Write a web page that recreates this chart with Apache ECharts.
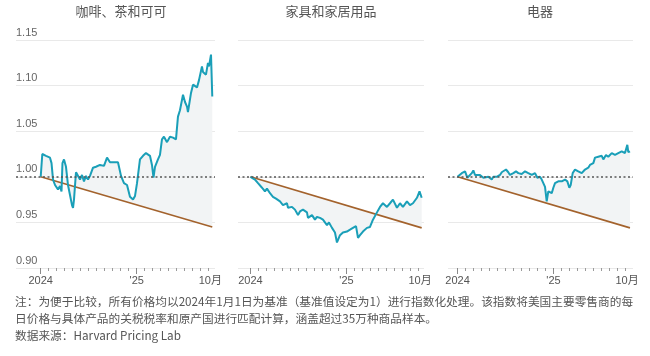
<!DOCTYPE html>
<html><head><meta charset="utf-8">
<script src="https://cdn.jsdelivr.net/npm/echarts@6/dist/echarts.min.js"></script>
<style>html,body{margin:0;padding:0;background:#fff}#c{width:650px;height:356px}</style>
</head><body><div id="c"></div>
<script>
// ---- data (x = months since 2024-01-01, y = price index) ----
const TITLES = ['咖啡、茶和可可', '家具和家居用品', '电器'];
const COFFEE = [[0,1.000],[0.2,1.025],[0.66,1.023],[1.16,1.021],[1.35,1.015],[1.54,0.997],[1.79,0.991],[2.16,0.986],[2.41,0.990],[2.6,0.984],[2.72,1.015],[2.91,1.019],[3.16,1.011],[3.41,0.991],[3.66,0.980],[3.91,0.969],[4.04,0.966],[4.16,0.975],[4.41,1.005],[4.66,1.005],[4.91,0.997],[5.16,1.002],[5.41,0.995],[5.66,1.001],[5.91,0.997],[6.16,1.001],[6.54,1.010],[6.91,1.011],[7.41,1.013],[7.91,1.012],[8.29,1.021],[8.66,1.016],[9.16,1.016],[9.66,1.016],[10.04,1.001],[10.41,0.993],[10.79,0.991],[11.16,0.978],[11.54,0.975],[11.79,0.979],[12.04,0.993],[12.41,1.019],[12.79,1.023],[13.16,1.026],[13.66,1.023],[13.91,1.013],[14.1,0.999],[14.29,1.011],[14.66,1.019],[14.91,1.024],[15.16,1.041],[15.41,1.044],[15.79,1.038],[16.16,1.044],[16.54,1.043],[16.91,1.041],[17.16,1.066],[17.41,1.073],[17.79,1.090],[18.04,1.082],[18.29,1.077],[18.41,1.071],[18.79,1.092],[19.04,1.101],[19.29,1.103],[19.54,1.098],[19.79,1.106],[20.16,1.121],[20.29,1.115],[20.66,1.112],[20.91,1.125],[21.04,1.121],[21.29,1.134],[21.45,1.088]];
const FURNITURE = [[0,1.000],[0.15,1.002],[0.56,0.997],[0.94,0.993],[1.44,0.988],[1.56,0.990],[1.81,0.984],[2.06,0.987],[2.44,0.982],[2.81,0.978],[3.19,0.976],[3.69,0.973],[4.06,0.969],[4.56,0.971],[4.69,0.966],[5.19,0.967],[5.56,0.964],[5.94,0.958],[6.19,0.962],[6.56,0.964],[7.06,0.961],[7.19,0.955],[7.69,0.958],[8.06,0.953],[8.31,0.956],[8.69,0.955],[9.06,0.953],[9.56,0.947],[9.81,0.950],[10.19,0.944],[10.56,0.939],[10.81,0.928],[11.19,0.936],[11.56,0.939],[12.06,0.940],[12.44,0.942],[12.81,0.944],[13.19,0.946],[13.44,0.933],[13.69,0.936],[14.06,0.940],[14.56,0.944],[14.94,0.945],[15.31,0.953],[15.81,0.961],[16.19,0.967],[16.56,0.971],[17.06,0.967],[17.44,0.971],[17.81,0.975],[18.31,0.966],[18.69,0.971],[19.06,0.967],[19.56,0.973],[19.94,0.969],[20.31,0.971],[20.81,0.977],[21.13,0.984],[21.4,0.977]];
const APPLIANCES = [[0,1.000],[0.53,1.004],[0.94,1.006],[1.06,1.007],[1.23,0.999],[1.48,1.000],[1.78,1.004],[1.98,1.007],[2.19,1.002],[2.4,1.000],[2.81,1.002],[3.23,0.999],[3.44,1.001],[3.85,1.000],[4.28,0.997],[4.48,1.000],[4.9,1.000],[5.31,1.002],[5.53,1.005],[5.73,1.004],[6.06,1.008],[6.35,1.005],[6.56,1.002],[6.98,1.004],[7.31,1.006],[7.6,1.004],[8.03,1.003],[8.44,1.006],[8.85,1.004],[9.28,1.002],[9.69,1.004],[9.98,0.999],[10.31,1.000],[10.53,0.997],[10.73,0.995],[10.94,0.989],[11.15,0.973],[11.35,0.984],[11.56,0.986],[11.78,0.982],[11.98,0.988],[12.19,0.993],[12.6,0.995],[13.03,0.995],[13.44,0.997],[13.73,0.995],[13.98,0.988],[14.15,0.991],[14.4,1.004],[14.69,1.008],[15.1,1.006],[15.53,1.004],[15.94,1.008],[16.35,1.010],[16.56,1.013],[16.98,1.015],[17.19,1.021],[17.6,1.022],[18.03,1.023],[18.23,1.019],[18.56,1.024],[18.85,1.022],[19.28,1.026],[19.69,1.024],[20.1,1.026],[20.53,1.028],[20.94,1.026],[21.23,1.035],[21.35,1.027],[21.56,1.028]];
const TREND_COFFEE = [[0,1.0],[21.45,0.945]];
const TREND_FURNITURE = [[0,1.0],[21.4,0.944]];
const TREND_APPLIANCES = [[0,1.0],[21.56,0.944]];
const BASELINE = 1.0;
const Y_MIN = 0.9, Y_MAX = 1.15, Y_STEP = 0.05;
const X_MINOR_TICKS = [0,1,2,3,4,5,6,7,8,9,10,11,12,13,14,15,16,17,18,19,20,21];
const X_MAJOR_TICKS = [0,12];
const X_LABEL_POS = [0,12,21.2];
const X_LABELS = ['2024', "'25", '10月'];
const NOTE_LINES = [
  '注：为便于比较，所有价格均以2024年1月1日为基准（基准值设定为1）进行指数化处理。该指数将美国主要零售商的每',
  '日价格与具体产品的关税税率和原产国进行匹配计算，涵盖超过35万种商品样本。',
  '数据来源：Harvard Pricing Lab'
];

// ---- layout / style ----
const PANELS = [
  {data: COFFEE, trend: TREND_COFFEE, left: 16, width: 199, xMin: -3.09, xMax: 21.79, titleX: 121},
  {data: FURNITURE, trend: TREND_FURNITURE, left: 238, width: 186, xMin: -1.56, xMax: 21.69, titleX: 331},
  {data: APPLIANCES, trend: TREND_APPLIANCES, left: 448, width: 185, xMin: -1.19, xMax: 21.94, titleX: 540}
];
const TEAL = '#1a9fb8', BROWN = '#a3622c', FILL = '#f2f4f5';
const CJK = "'Noto Sans CJK SC', sans-serif";
const LAT = "'Liberation Sans', 'Noto Sans CJK SC', sans-serif";

const grid = [], xAxis = [], yAxis = [], series = [], graphic = [];
PANELS.forEach((p, i) => {
  grid.push({left: p.left, width: p.width, top: 40, height: 228, containLabel: false});
  xAxis.push({
    type: 'value', gridIndex: i, min: p.xMin, max: p.xMax,
    axisLine: {show: false}, splitLine: {show: false},
    axisTick: {show: true, customValues: X_MINOR_TICKS, length: 3, lineStyle: {color: '#9a9a9a'}},
    axisLabel: {show: true, customValues: X_LABEL_POS, margin: 7, color: '#555', fontSize: 11, fontFamily: LAT,
      formatter: v => { const k = X_LABEL_POS.indexOf(v); return k >= 0 ? X_LABELS[k] : ''; }}
  });
  xAxis.push({
    type: 'value', gridIndex: i, min: p.xMin, max: p.xMax, position: 'bottom',
    axisLine: {show: false}, splitLine: {show: false}, axisLabel: {show: false},
    axisTick: {show: true, customValues: X_MAJOR_TICKS, length: 6, lineStyle: {color: '#8a8a8a'}}
  });
  yAxis.push({
    type: 'value', gridIndex: i, min: Y_MIN, max: Y_MAX, interval: Y_STEP,
    axisLine: {show: false}, axisTick: {show: false},
    splitLine: {show: true, lineStyle: {color: '#e9e9e9', width: 1}},
    axisLabel: {show: i === 0, inside: true, margin: 0, verticalAlign: 'bottom', padding: [0, 0, 2, 0],
      color: '#666', fontSize: 11, fontFamily: LAT, formatter: v => v.toFixed(2)}
  });
  const pdata = p.data, ptrend = p.trend;
  series.push({
    type: 'custom', xAxisIndex: 2 * i, yAxisIndex: i, data: [ptrend[0]], z: 1, silent: true, clip: false,
    renderItem: function (params, api) {
      if (params.dataIndex !== 0) return;
      const pts = pdata.map(d => api.coord(d));
      pts.push(api.coord(ptrend[1]), api.coord(ptrend[0]));
      return {type: 'polygon', shape: {points: pts}, style: {fill: FILL}};
    }
  });
  series.push({
    type: 'line', xAxisIndex: 2 * i, yAxisIndex: i, data: ptrend, showSymbol: false, z: 2, silent: true,
    lineStyle: {color: BROWN, width: 1.6}
  });
  series.push({
    type: 'line', xAxisIndex: 2 * i, yAxisIndex: i, data: [], z: 3, silent: true,
    markLine: {silent: true, symbol: ['none', 'none'], label: {show: false},
      lineStyle: {type: [2, 2.5], color: '#555', width: 1.6}, data: [{yAxis: BASELINE}]}
  });
  series.push({
    type: 'line', xAxisIndex: 2 * i, yAxisIndex: i, data: pdata, showSymbol: false, z: 4, silent: true,
    lineStyle: {color: TEAL, width: 2}
  });
  graphic.push({type: 'text', left: p.titleX, top: 5, style: {text: TITLES[i], fill: '#555', font: '13px ' + CJK, textAlign: 'center'}, x: 0});
});
NOTE_LINES.forEach((t, k) => {
  graphic.push({type: 'text', x: 15, y: 296 + k * 17, style: {text: t, fill: '#555', font: "11.7px 'Liberation Sans Narrow', 'Noto Sans CJK SC', sans-serif"}});
});
// titles via x/y centre
graphic.forEach((g, k) => { if (k < 3) { delete g.left; delete g.top; g.x = PANELS[k].titleX; g.y = 5; } });

const chart = echarts.init(document.getElementById('c'), null, {renderer: 'canvas'});
chart.setOption({animation: false, backgroundColor: '#fff', grid, xAxis, yAxis, series, graphic});
</script></body></html>
